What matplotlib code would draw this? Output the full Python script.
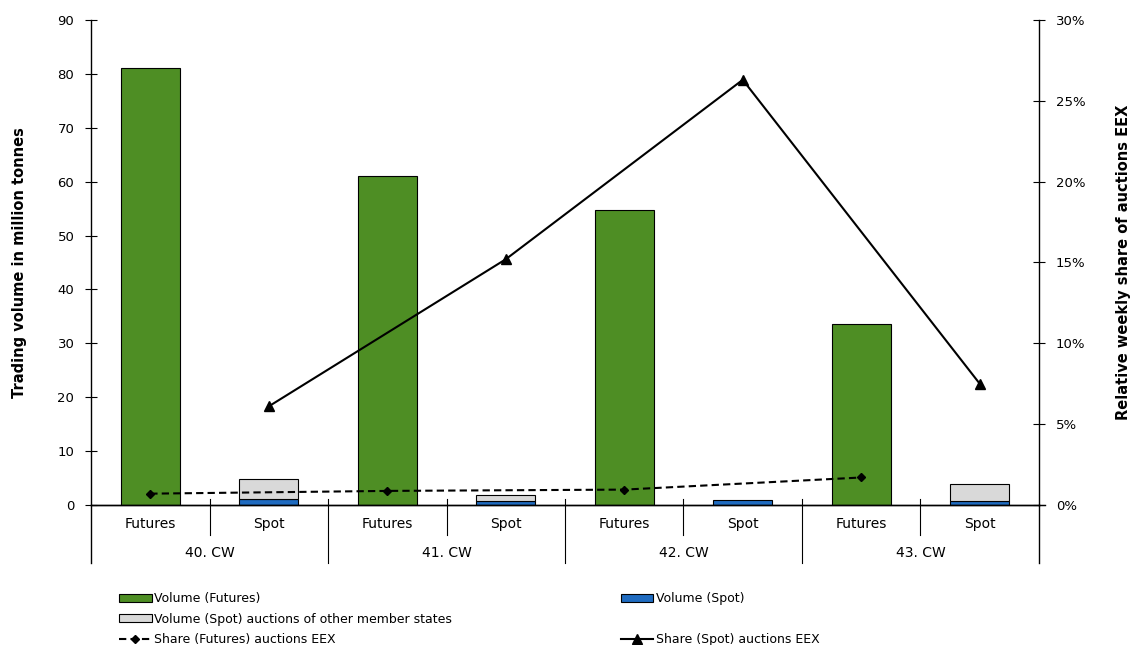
import numpy as np
import matplotlib
matplotlib.use("Agg")
import matplotlib.pyplot as plt
from matplotlib.patches import Patch
from matplotlib.lines import Line2D
from matplotlib.ticker import FuncFormatter

weeks = ["40. CW", "41. CW", "42. CW", "43. CW"]
types = ["Futures", "Spot"]

vol_futures = [81.1, 61.0, 54.7, 33.6]
vol_spot = [1.2, 0.8, 1.0, 0.8]
vol_spot_other = [3.6, 1.05, 0.0, 3.0]

share_futures = [0.7, 0.87, 0.95, 1.7]
share_spot = [6.1, 15.2, 26.3, 7.5]

green = "#4e8e24"
blue = "#1f6bc0"
grey = "#d9d9d9"

plt.rcParams["font.family"] = "DejaVu Sans"

fig = plt.figure(figsize=(11.35, 6.45), dpi=100)
ax = fig.add_axes([0.0802, 0.2171, 0.8352, 0.7519])
ax2 = ax.twinx()

x_fut = np.arange(len(weeks)) * 2
x_spot = x_fut + 1
w = 0.5

ax.bar(x_fut, vol_futures, w, color=green, edgecolor="black", linewidth=0.8, zorder=2)
ax.bar(x_spot, vol_spot, w, color=blue, edgecolor="black", linewidth=0.8, zorder=2)
other_h = np.array(vol_spot_other)
ax.bar(x_spot[other_h > 0], other_h[other_h > 0], w, bottom=np.array(vol_spot)[other_h > 0],
       color=grey, edgecolor="black", linewidth=0.8, zorder=2)

ax2.plot(x_fut, share_futures, color="black", linestyle=(0, (3.5, 2)), linewidth=1.5,
         marker="D", markersize=4.5)
ax2.plot(x_spot, share_spot, color="black", linewidth=1.5, marker="^", markersize=6.5)

ax.set_xlim(-0.5, 7.5)
ax.set_ylim(0, 90)
ax.set_yticks(np.arange(0, 91, 10))
ax2.set_ylim(0, 30)
ax2.set_yticks(np.arange(0, 31, 5))
ax2.yaxis.set_major_formatter(FuncFormatter(lambda v, p: f"{v:.0f}%"))

for a in (ax, ax2):
    a.spines["top"].set_visible(False)
    a.tick_params(axis="y", direction="inout", length=8, width=0.8, labelsize=9.5, pad=8)
    a.spines["left"].set_linewidth(1)
    a.spines["right"].set_linewidth(1)
    a.spines["bottom"].set_linewidth(1)
ax2.spines["left"].set_visible(False)
ax.spines["right"].set_visible(False)
ax.set_xticks([])

ax.set_ylabel("Trading volume in million tonnes", fontsize=10.5, fontweight="bold", labelpad=22)
ax2.set_ylabel("Relative weekly share of auctions EEX", fontsize=10.5, fontweight="bold", labelpad=22)

# category axis: labels and separators
trans = ax.get_xaxis_transform()
for i, wk in enumerate(weeks):
    ax.text(x_fut[i], -0.04, types[0], transform=trans, ha="center", va="center", fontsize=10)
    ax.text(x_spot[i], -0.04, types[1], transform=trans, ha="center", va="center", fontsize=10)
    ax.text(x_fut[i] + 0.5, -0.099, wk, transform=trans, ha="center", va="center", fontsize=10)
    ax.plot([x_fut[i] + 0.5] * 2, [0.012, -0.062], transform=trans, color="black",
            linewidth=0.8, clip_on=False)
for xs in np.arange(-0.5, 8, 2):
    ax.plot([xs, xs], [0.0 if xs in (-0.5, 7.5) else 0.012, -0.12], transform=trans,
            color="black", linewidth=1 if xs in (-0.5, 7.5) else 0.8, clip_on=False)
ax.plot([7.5, 7.55], [0, 0], transform=trans, color="black", linewidth=1, clip_on=False)

h_fut = Patch(facecolor=green, edgecolor="black", linewidth=0.8)
h_spot = Patch(facecolor=blue, edgecolor="black", linewidth=0.8)
h_other = Patch(facecolor=grey, edgecolor="black", linewidth=0.8)
h_sf = Line2D([], [], color="black", linestyle=(0, (3.5, 2)), linewidth=1.5, marker="D", markersize=4.5)
h_ss = Line2D([], [], color="black", linewidth=1.5, marker="^", markersize=6.5)
h_blank = Line2D([], [], color="none")

leg_kw = dict(frameon=False, fontsize=9, handlelength=2.6, handleheight=0.6, handletextpad=0.2,
              labelspacing=0.6, borderaxespad=0, borderpad=0, loc="upper left")
fig.legend([h_fut, h_other, h_sf],
           ["Volume (Futures)", "Volume (Spot) auctions of other member states",
            "Share (Futures) auctions EEX"],
           bbox_to_anchor=(0.105, 0.082), **leg_kw)
fig.legend([h_spot, h_blank, h_ss],
           ["Volume (Spot)", " ", "Share (Spot) auctions EEX"],
           bbox_to_anchor=(0.547, 0.082), **leg_kw)

fig.savefig("out.png", dpi=100)
